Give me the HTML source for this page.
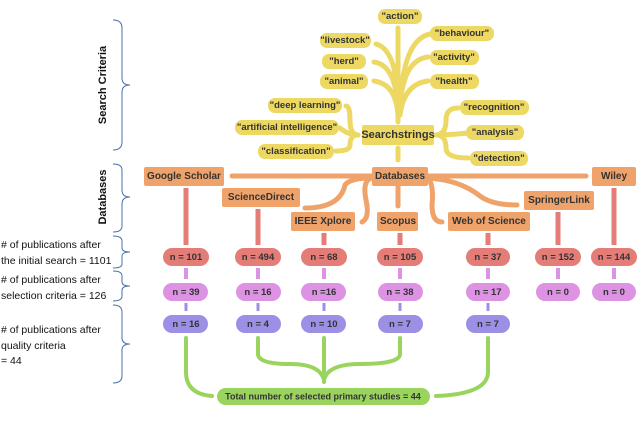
<!DOCTYPE html>
<html><head><meta charset="utf-8"><style>
html,body{margin:0;padding:0;background:#fff;width:640px;height:431px;overflow:hidden}
svg{display:block}
text{font-family:"Liberation Sans",sans-serif;font-weight:bold;font-size:9.5px;fill:#333;text-anchor:middle;dominant-baseline:central}
.l{font-weight:normal;font-size:10.5px;fill:#111;text-anchor:start}
</style></head><body>
<svg width="640" height="431" viewBox="0 0 640 431">
<g fill="none" stroke="#4a6fa8" stroke-width="1">
<path d="M113,20 Q122,20 122,28 V78 Q122,85 130,85 Q122,85 122,92 V142 Q122,150 113,150"/>
<path d="M113,164 Q122,164 122,170 V190 Q122,197 130,197 Q122,197 122,204 V226 Q122,232 113,232"/>
<path d="M113,236 Q122,236 122,241 V248 Q122,252 130,252 Q122,252 122,256 V264 Q122,268 113,268"/>
<path d="M113,271 Q122,271 122,276 V282 Q122,286 130,286 Q122,286 122,290 V296 Q122,301 113,301"/>
<path d="M113,305 Q122,305 122,312 V338 Q122,344 130,344 Q122,344 122,350 V376 Q122,383 113,383"/>
</g>
<text transform="translate(103,85) rotate(-90)" style="font-size:11px;fill:#111">Search Criteria</text>
<text transform="translate(103,197) rotate(-90)" style="font-size:11px;fill:#111">Databases</text>
<text class="l" x="1" y="245"># of publications after</text>
<text class="l" x="1" y="261">the initial search = 1101</text>
<text class="l" x="1" y="280"># of publications after</text>
<text class="l" x="1" y="296">selection criteria = 126</text>
<text class="l" x="1" y="330"># of publications after</text>
<text class="l" x="1" y="346">quality criteria</text>
<text class="l" x="1" y="361">= 44</text>
<g fill="none" stroke="#ecd862" stroke-width="5" stroke-linecap="round">
<path d="M398,122 V28"/>
<path d="M398,110 Q398,50 376,44"/>
<path d="M398,110 Q396,65 374,62"/>
<path d="M398,115 Q396,84 374,81"/>
<path d="M400,110 Q402,40 430,34"/>
<path d="M400,110 Q402,60 428,57"/>
<path d="M400,115 Q404,84 428,81"/>
<path d="M358,135 Q350,135 350,120 Q350,106 346,106"/>
<path d="M358,135 Q348,135 340,128"/>
<path d="M358,135 Q350,135 350,145 Q350,151 336,151"/>
<path d="M436,135 Q446,135 446,120 Q446,108 458,108"/>
<path d="M436,135 Q448,135 468,133"/>
<path d="M436,135 Q446,135 446,148 Q446,158 468,158"/>
<path d="M398,148 V160"/>
</g>
<g fill="#ecd862">
<rect x="378" y="9" width="44" height="15" rx="7"/>
<rect x="320" y="33" width="51" height="15" rx="7"/>
<rect x="322" y="54" width="44" height="15" rx="7"/>
<rect x="320" y="74" width="48" height="15" rx="7"/>
<rect x="430" y="26" width="64" height="15" rx="7"/>
<rect x="430" y="50" width="49" height="15" rx="7"/>
<rect x="430" y="74" width="49" height="15" rx="7"/>
<rect x="268" y="98" width="74" height="15" rx="7"/>
<rect x="235" y="120" width="104" height="15" rx="7"/>
<rect x="258" y="144" width="76" height="15" rx="7"/>
<rect x="460" y="100" width="69" height="15" rx="7"/>
<rect x="466" y="125" width="58" height="15" rx="7"/>
<rect x="470" y="151" width="58" height="15" rx="7"/>
<rect x="362" y="125" width="72" height="20" rx="2"/>
</g>
<text x="400" y="16.5">"action"</text>
<text x="345" y="40.5">"livestock"</text>
<text x="344" y="61.5">"herd"</text>
<text x="344" y="81.5">"animal"</text>
<text x="462" y="33.5">"behaviour"</text>
<text x="454" y="57.5">"activity"</text>
<text x="454" y="81.5">"health"</text>
<text x="305" y="105.5">"deep learning"</text>
<text x="287" y="127.5">"artificial intelligence"</text>
<text x="296" y="151.5">"classification"</text>
<text x="494" y="107.5">"recognition"</text>
<text x="495" y="132.5">"analysis"</text>
<text x="499" y="158.5">"detection"</text>
<text x="398" y="135" style="font-size:11px">Searchstrings</text>
<g fill="none" stroke="#efa36a" stroke-width="5" stroke-linecap="round">
<path d="M372,176 H232"/>
<path d="M428,176 H586"/>
<path d="M372,178 Q350,178 345,185 Q340,208 305,208"/>
<path d="M372,178 Q362,180 366,200 Q370,218 362,222"/>
<path d="M398,186 V206"/>
<path d="M428,178 Q434,185 432,205 Q432,222 442,222"/>
<path d="M428,178 Q460,180 480,196 Q492,205 517,205"/>
</g>
<g fill="#efa36a">
<rect x="144" y="167" width="80" height="19" rx="2"/>
<rect x="372" y="167" width="56" height="19" rx="2"/>
<rect x="592" y="167" width="44" height="19" rx="2"/>
<rect x="222" y="188" width="78" height="19" rx="2"/>
<rect x="524" y="191" width="70" height="19" rx="2"/>
<rect x="291" y="212" width="64" height="19" rx="2"/>
<rect x="377" y="212" width="41" height="19" rx="2"/>
<rect x="448" y="212" width="82" height="19" rx="2"/>
</g>
<text x="184" y="176.5" style="font-size:10px">Google Scholar</text>
<text x="400" y="176.5" style="font-size:10px">Databases</text>
<text x="614" y="176.5" style="font-size:10px">Wiley</text>
<text x="261" y="197.5" style="font-size:10px">ScienceDirect</text>
<text x="559" y="200.5" style="font-size:10px">SpringerLink</text>
<text x="323" y="221.5" style="font-size:10px">IEEE Xplore</text>
<text x="398" y="221.5" style="font-size:10px">Scopus</text>
<text x="489" y="221.5" style="font-size:10px">Web of Science</text>
<g stroke="#e47d78" stroke-width="5">
<path d="M186,188 V245"/><path d="M258,209 V245"/><path d="M324,233 V245"/><path d="M400,233 V245"/>
<path d="M488,233 V245"/><path d="M558,212 V245"/><path d="M614,188 V245"/>
</g>
<g stroke="#dd92e4" stroke-width="4">
<path d="M186,268 V279"/><path d="M258,268 V279"/><path d="M324,268 V279"/><path d="M400,268 V279"/>
<path d="M488,268 V279"/><path d="M558,268 V279"/><path d="M614,268 V279"/>
</g>
<g stroke="#9c8fe6" stroke-width="3">
<path d="M186,303 V311"/><path d="M258,303 V311"/><path d="M324,303 V311"/><path d="M400,303 V311"/><path d="M488,303 V311"/>
</g>
<g fill="#e47d78">
<rect x="163" y="248" width="46" height="18" rx="9"/><rect x="235" y="248" width="46" height="18" rx="9"/>
<rect x="301" y="248" width="46" height="18" rx="9"/><rect x="377" y="248" width="46" height="18" rx="9"/>
<rect x="466" y="248" width="44" height="18" rx="9"/><rect x="535" y="248" width="46" height="18" rx="9"/>
<rect x="591" y="248" width="46" height="18" rx="9"/>
</g>
<g fill="#dd92e4">
<rect x="163" y="283" width="45" height="18" rx="9"/><rect x="236" y="283" width="45" height="18" rx="9"/>
<rect x="301" y="283" width="45" height="18" rx="9"/><rect x="378" y="283" width="45" height="18" rx="9"/>
<rect x="466" y="283" width="44" height="18" rx="9"/><rect x="536" y="283" width="44" height="18" rx="9"/>
<rect x="592" y="283" width="44" height="18" rx="9"/>
</g>
<g fill="#9c8fe6">
<rect x="163" y="315" width="45" height="18" rx="9"/><rect x="236" y="315" width="45" height="18" rx="9"/>
<rect x="301" y="315" width="45" height="18" rx="9"/><rect x="378" y="315" width="45" height="18" rx="9"/>
<rect x="466" y="315" width="44" height="18" rx="9"/>
</g>
<g style="font-size:10px">
<text x="186" y="257.5">n = 101</text><text x="258" y="257.5">n = 494</text><text x="324" y="257.5">n = 68</text>
<text x="400" y="257.5">n = 105</text><text x="488" y="257.5">n = 37</text><text x="558" y="257.5">n = 152</text><text x="614" y="257.5">n = 144</text>
<text x="186" y="292.5">n = 39</text><text x="258" y="292.5">n = 16</text><text x="324" y="292.5">n =16</text>
<text x="400" y="292.5">n = 38</text><text x="488" y="292.5">n = 17</text><text x="558" y="292.5">n = 0</text><text x="614" y="292.5">n = 0</text>
<text x="186" y="324.5">n = 16</text><text x="258" y="324.5">n = 4</text><text x="324" y="324.5">n = 10</text>
<text x="400" y="324.5">n = 7</text><text x="488" y="324.5">n = 7</text>
</g>
<g fill="none" stroke="#9ad45e" stroke-width="4" stroke-linecap="round">
<path d="M186,338 V372 Q186,394 212,396"/>
<path d="M488,338 V372 Q488,394 436,396"/>
<path d="M258,338 V354 Q258,364 290,364 Q320,364 324,380"/>
<path d="M400,338 V354 Q400,364 360,364 Q328,364 324,380"/>
<path d="M324,338 V382"/>
</g>
<rect x="217" y="388" width="213" height="17" rx="8.5" fill="#9ad45e"/>
<text x="323" y="396.5" style="font-size:9px">Total number of selected primary studies = 44</text>
</svg>
</body></html>
